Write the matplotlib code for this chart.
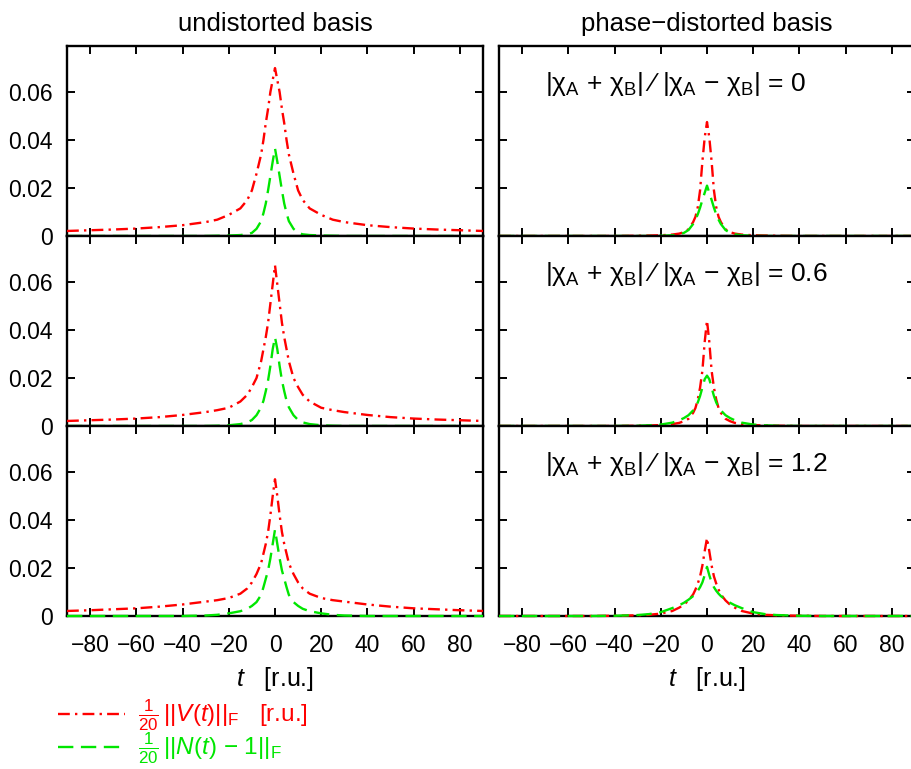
import numpy as np
import matplotlib
matplotlib.use("Agg")
import matplotlib.pyplot as plt

plt.rcParams['font.family'] = ['Liberation Sans', 'DejaVu Sans']
plt.rcParams['mathtext.fontset'] = 'custom'
plt.rcParams['mathtext.rm'] = 'Liberation Sans'
plt.rcParams['mathtext.it'] = 'Liberation Sans:italic'
plt.rcParams['mathtext.bf'] = 'Liberation Sans:bold'

# time grid [r.u.]
t = [-90, -80, -70, -60, -50, -40, -30, -25, -20, -15, -12, -10, -8, -6, -5, -4, -3, -2, -1,
     0, 1, 2, 3, 4, 5, 6, 8, 10, 12, 15, 20, 25, 30, 40, 50, 60, 70, 80, 90]

# undistorted basis: (1/20)||V(t)||_F  (red)
v_undist_1 = [0.0021, 0.0024, 0.0027, 0.0031, 0.0037, 0.0045, 0.0058, 0.0068, 0.0088, 0.0115, 0.0150,
              0.0190, 0.0260, 0.0340, 0.0400, 0.0470, 0.0530, 0.0600, 0.0650,
              0.0700, 0.0650, 0.0600, 0.0530, 0.0470, 0.0400, 0.0340, 0.0260, 0.0190, 0.0150,
              0.0115, 0.0088, 0.0068, 0.0058, 0.0045, 0.0037, 0.0031, 0.0027, 0.0024, 0.0021]
v_undist_2 = [0.0021, 0.0024, 0.0027, 0.0031, 0.0037, 0.0046, 0.0058, 0.0066, 0.0076, 0.0102, 0.0130,
              0.0162, 0.0200, 0.0270, 0.0320, 0.0370, 0.0430, 0.0510, 0.0590,
              0.0670, 0.0590, 0.0510, 0.0430, 0.0370, 0.0320, 0.0270, 0.0200, 0.0162, 0.0130,
              0.0102, 0.0076, 0.0066, 0.0058, 0.0046, 0.0037, 0.0031, 0.0027, 0.0024, 0.0021]
v_undist_3 = [0.0021, 0.0024, 0.0028, 0.0032, 0.0039, 0.0048, 0.0060, 0.0066, 0.0075, 0.0093, 0.0115,
              0.0140, 0.0175, 0.0220, 0.0260, 0.0300, 0.0350, 0.0420, 0.0500,
              0.0570, 0.0500, 0.0420, 0.0350, 0.0300, 0.0260, 0.0220, 0.0175, 0.0140, 0.0115,
              0.0093, 0.0075, 0.0066, 0.0060, 0.0048, 0.0039, 0.0032, 0.0028, 0.0024, 0.0021]

# undistorted basis: (1/20)||N(t)-1||_F  (green)
n_undist_1 = [0.0, 0.0, 0.0, 0.0, 0.0, 0.0, 0.0, 0.0001, 0.0002, 0.0004, 0.0007,
              0.0013, 0.0030, 0.0062, 0.0095, 0.0135, 0.0190, 0.0250, 0.0310,
              0.0365, 0.0310, 0.0250, 0.0190, 0.0135, 0.0095, 0.0062, 0.0030, 0.0013, 0.0007,
              0.0004, 0.0002, 0.0001, 0.0, 0.0, 0.0, 0.0, 0.0, 0.0, 0.0]
n_undist_2 = [0.0, 0.0, 0.0, 0.0, 0.0, 0.0, 0.0, 0.0001, 0.0003, 0.0008, 0.0015,
              0.0025, 0.0045, 0.0078, 0.0105, 0.0145, 0.0190, 0.0250, 0.0320,
              0.0370, 0.0320, 0.0250, 0.0190, 0.0145, 0.0105, 0.0078, 0.0045, 0.0025, 0.0015,
              0.0008, 0.0003, 0.0001, 0.0, 0.0, 0.0, 0.0, 0.0, 0.0, 0.0]
n_undist_3 = [0.0, 0.0, 0.0, 0.0, 0.0, 0.0, 0.0002, 0.0005, 0.0011, 0.0020, 0.0030,
              0.0042, 0.0058, 0.0088, 0.0120, 0.0155, 0.0190, 0.0240, 0.0300,
              0.0360, 0.0300, 0.0240, 0.0190, 0.0155, 0.0120, 0.0088, 0.0058, 0.0042, 0.0030,
              0.0020, 0.0011, 0.0005, 0.0002, 0.0, 0.0, 0.0, 0.0, 0.0, 0.0]

# phase-distorted basis: (1/20)||V(t)||_F  (red)
v_dist_1 = [0.0, 0.0, 0.0, 0.0, 0.0, 0.0, 0.0001, 0.0002, 0.0003, 0.0006, 0.0010,
            0.0016, 0.0028, 0.0058, 0.0080, 0.0120, 0.0190, 0.0310, 0.0410,
            0.0475, 0.0410, 0.0310, 0.0190, 0.0120, 0.0080, 0.0058, 0.0028, 0.0016, 0.0010,
            0.0006, 0.0003, 0.0002, 0.0001, 0.0, 0.0, 0.0, 0.0, 0.0, 0.0]
v_dist_2 = [0.0, 0.0, 0.0, 0.0, 0.0, 0.0, 0.0001, 0.0002, 0.0004, 0.0008, 0.0013,
            0.0020, 0.0030, 0.0055, 0.0075, 0.0110, 0.0160, 0.0230, 0.0350,
            0.0440, 0.0350, 0.0230, 0.0160, 0.0110, 0.0075, 0.0055, 0.0030, 0.0020, 0.0013,
            0.0008, 0.0004, 0.0002, 0.0001, 0.0, 0.0, 0.0, 0.0, 0.0, 0.0]
v_dist_3 = [0.0, 0.0, 0.0, 0.0, 0.0, 0.0001, 0.0003, 0.0005, 0.0010, 0.0021, 0.0035,
            0.0047, 0.0065, 0.0090, 0.0110, 0.0135, 0.0165, 0.0210, 0.0270,
            0.0325, 0.0270, 0.0210, 0.0165, 0.0135, 0.0110, 0.0090, 0.0065, 0.0047, 0.0035,
            0.0021, 0.0010, 0.0005, 0.0003, 0.0001, 0.0, 0.0, 0.0, 0.0, 0.0]

# phase-distorted basis: (1/20)||N(t)-1||_F  (green)
n_dist_1 = [0.0, 0.0, 0.0, 0.0, 0.0, 0.0, 0.0, 0.0, 0.0001, 0.0003, 0.0007,
            0.0013, 0.0025, 0.0050, 0.0068, 0.0090, 0.0118, 0.0150, 0.0180,
            0.0210, 0.0180, 0.0150, 0.0118, 0.0090, 0.0068, 0.0050, 0.0025, 0.0013, 0.0007,
            0.0003, 0.0001, 0.0, 0.0, 0.0, 0.0, 0.0, 0.0, 0.0, 0.0]
n_dist_2 = [0.0, 0.0, 0.0, 0.0, 0.0, 0.0, 0.0001, 0.0003, 0.0006, 0.0014, 0.0024,
            0.0033, 0.0045, 0.0065, 0.0078, 0.0098, 0.0125, 0.0160, 0.0195,
            0.0210, 0.0195, 0.0160, 0.0125, 0.0098, 0.0078, 0.0065, 0.0045, 0.0033, 0.0024,
            0.0014, 0.0006, 0.0003, 0.0001, 0.0, 0.0, 0.0, 0.0, 0.0, 0.0]
n_dist_3 = [0.0, 0.0, 0.0, 0.0, 0.0, 0.0001, 0.0004, 0.0008, 0.0016, 0.0033, 0.0045,
            0.0055, 0.0068, 0.0083, 0.0093, 0.0105, 0.0120, 0.0140, 0.0170,
            0.0205, 0.0170, 0.0140, 0.0120, 0.0105, 0.0093, 0.0083, 0.0068, 0.0055, 0.0045,
            0.0033, 0.0016, 0.0008, 0.0004, 0.0001, 0.0, 0.0, 0.0, 0.0, 0.0]

ratios = ['0', '0.6', '1.2']
col_titles = ['undistorted basis', 'phase\u2212distorted basis']
xticks = [-80, -60, -40, -20, 0, 20, 40, 60, 80]
xticklabels = ['\u221280', '\u221260', '\u221240', '\u221220', '0', '20', '40', '60', '80']
yticks = [0, 0.02, 0.04, 0.06]
yticklabels = ['0', '0.02', '0.04', '0.06']
legend_labels = [r'$\frac{1}{20}\,||\mathit{V(t)}||_\mathrm{F}$   [r.u.]',
                 r'$\frac{1}{20}\,||\mathit{N(t)}$ $-$ 1$||_\mathrm{F}$']

V = [[v_undist_1, v_undist_2, v_undist_3], [v_dist_1, v_dist_2, v_dist_3]]
N = [[n_undist_1, n_undist_2, n_undist_3], [n_dist_1, n_dist_2, n_dist_3]]

RED = '#ff0000'
GREEN = '#00e600'
red_ls = (0, (5.0, 2.2, 1.0, 2.2))
green_ls = (0, (6.5, 3.2))
LW = 1.7

W, H = 911, 769
fig = plt.figure(figsize=(W / 100, H / 100), dpi=100)

col_x = [67, 499]
col_w = 416
row_top = [46, 236, 426]
row_h = 190

handles = None
for c in range(2):
    for r in range(3):
        ax = fig.add_axes([col_x[c] / W, 1 - (row_top[r] + row_h) / H, col_w / W, row_h / H])
        lv, = ax.plot(t, V[c][r], color=RED, lw=LW, ls=red_ls, clip_on=False, zorder=4)
        ln, = ax.plot(t, N[c][r], color=GREEN, lw=LW, ls=green_ls, clip_on=False, zorder=4)
        if handles is None:
            handles = [lv, ln]
        ax.set_xlim(-90, 90)
        ax.set_ylim(0, 0.0792)
        ax.set_xticks(xticks)
        ax.set_yticks(yticks)
        ax.tick_params(direction='in', length=6, width=1.4, top=True, right=True,
                       labelsize=16.5, pad=10, color='black')
        ax.tick_params(axis='x', pad=13)
        for sp in ax.spines.values():
            sp.set_linewidth(1.7)
        if c == 0:
            ax.set_yticklabels(yticklabels)
        else:
            ax.set_yticklabels([])
        if r == 2:
            ax.set_xticklabels(xticklabels)
            ax.set_xlabel(r'$\mathit{t}$   [r.u.]', fontsize=18, labelpad=6)
        else:
            ax.set_xticklabels([])
        if c == 1:
            ax.text(0.11, 0.80,
                    '|\u03c7$_\\mathrm{A}$ + \u03c7$_\\mathrm{B}$| \u2215 |\u03c7$_\\mathrm{A}$ \u2212 \u03c7$_\\mathrm{B}$| = ' + ratios[r],
                    transform=ax.transAxes, fontsize=19, ha='left', va='center')
        if r == 0:
            ax.set_title(col_titles[c], fontsize=18.5, pad=11)

legend_y = [715, 748]
for h, lab, yy in zip(handles, legend_labels, legend_y):
    fig.legend([h], [lab], loc='center left', bbox_to_anchor=(36 / W, 1 - yy / H),
               frameon=False, fontsize=17.5, handlelength=2.75, handletextpad=0.55,
               labelcolor='linecolor')

fig.savefig('out.png', dpi=100)
